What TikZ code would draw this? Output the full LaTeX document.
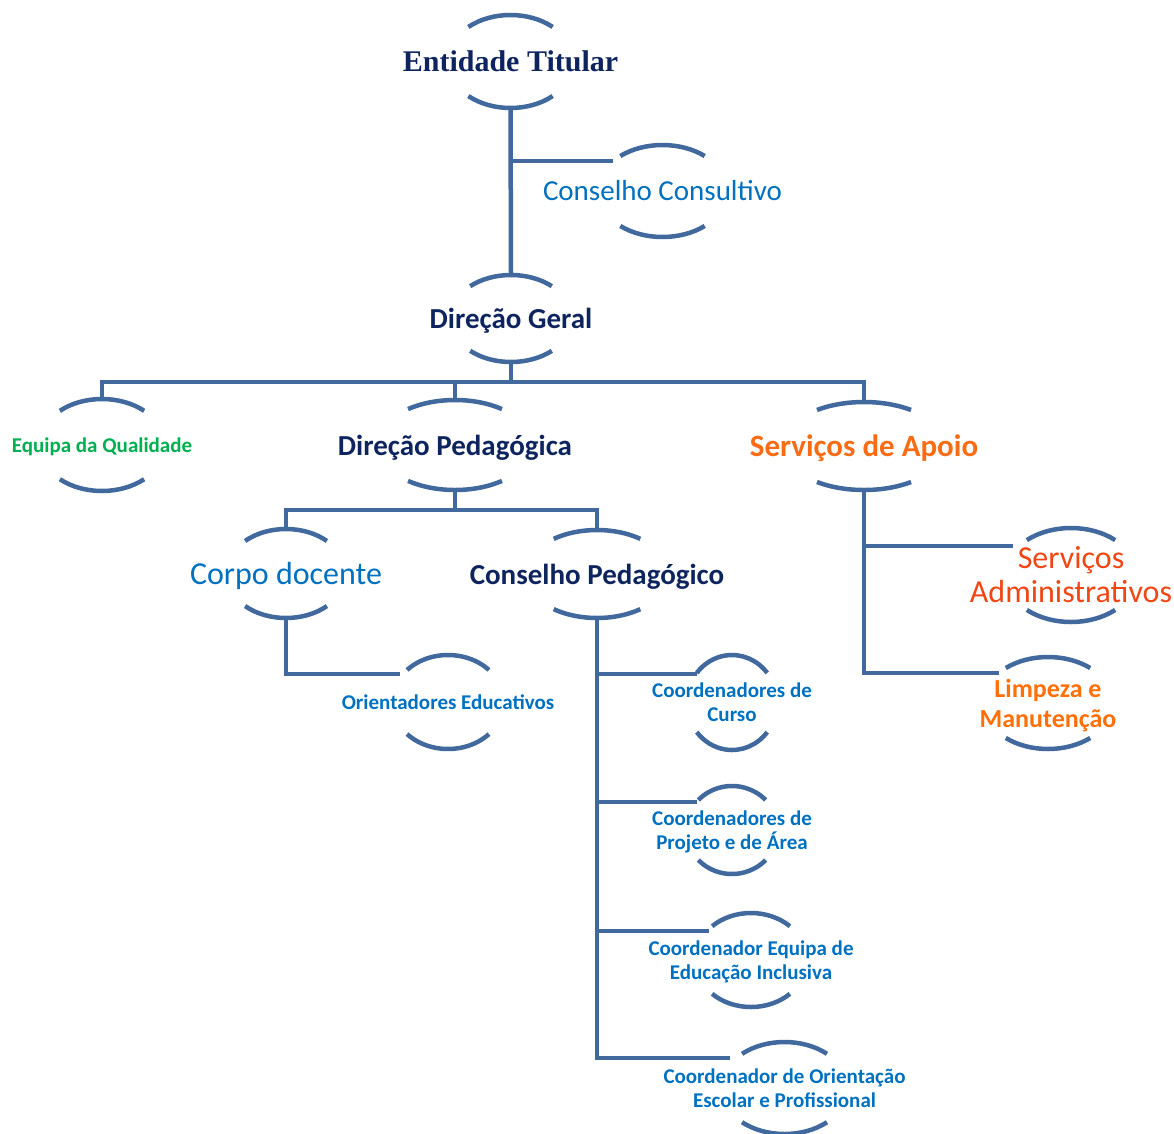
\documentclass[tikz,border=0pt]{standalone}
\usepackage{fontspec}
\setmainfont{Carlito}
\newfontfamily\titlefont{Liberation Serif}
\usepackage{tikz}
\usetikzlibrary{positioning}

\definecolor{linkblue}{RGB}{65,105,158}
\definecolor{navy}{RGB}{14,36,94}
\definecolor{midblue}{RGB}{0,112,192}
\definecolor{leafgreen}{RGB}{0,176,80}
\definecolor{apoio}{RGB}{247,108,20}
\definecolor{admin}{RGB}{240,70,20}
\definecolor{limpeza}{RGB}{255,112,10}

\begin{document}
\begin{tikzpicture}[x=1pt,y=1pt]

\tikzset{unit/.style={inner sep=0pt, minimum height=2*#1, align=center},
         unit/.default=46,
         low/.style={text depth=0pt},
         link/.style={draw=linkblue, line width=4.5pt},
         arcline/.style={draw=linkblue, line width=4.5pt},
         head/.style={font=\fontsize{29}{34}\selectfont\bfseries, text=navy},
         small/.style={font=\fontsize{21}{24}\selectfont\bfseries, text=midblue}}

\useasboundingbox (0,0) rectangle (1174,-1133);

\node[unit=46.5, font=\titlefont\fontsize{30}{36}\selectfont\bfseries, text=navy] (et) at (510.5,-61.5) {Entidade Titular};
\node[unit, font=\fontsize{29}{34}\selectfont, text=midblue] (cc) at (662.5,-191) {Conselho Consultivo};
\node[unit=43.5, head, low] (dg) at (511,-318.5) {Direção Geral};
\node[unit, small, low, text=leafgreen] (eq) at (102,-445) {Equipa da Qualidade};
\node[unit=45, head, low] (dp) at (455,-445) {Direção Pedagógica};
\node[unit=44, head, low, font=\fontsize{31}{36}\selectfont\bfseries, text=apoio] (sa) at (864,-446) {Serviços de Apoio};
\node[unit=44.5, low, font=\fontsize{32}{36}\selectfont, text=midblue] (cd) at (286,-573.5) {Corpo docente};
\node[unit=44, head, low] (cp) at (597,-574) {Conselho Pedagógico};
\node[unit=47, small] (oe) at (448,-702) {Orientadores Educativos};
\node[unit=47, font=\fontsize{32}{34}\selectfont, text=admin] (sad) at (1071,-575) {Serviços\\Administrativos};
\node[unit, low, font=\fontsize{26}{30}\selectfont\bfseries, text=limpeza] (lm) at (1048,-703) {Limpeza e\\Manutenção};
\node[unit=47.5, small] (ccu) at (732,-702.5) {Coordenadores de\\Curso};
\node[unit=44, small, low] (cpa) at (732,-830) {Coordenadores de\\Projeto e de Área};
\node[unit=47, small, low] (cei) at (751,-960) {Coordenador Equipa de\\Educação Inclusiva};
\node[unit, small] (ceo) at (784.5,-1088) {Coordenador de Orientação\\Escolar e Profissional};

% top and bottom arcs round each unit
\foreach \n/\rx/\ry/\t [evaluate=\t as \u using 180-\t] in
  {et/63/46.5/48, cc/65/46/49.5, dg/61/43.5/48, eq/63/46/48, dp/78/45/53,
   sa/82/44/55, cd/60/44.5/47, cp/72/44/53, oe/56/47/43, sad/66/47/48,
   lm/65/46/49.5, ccu/45/47.5/38.5, cpa/46/44/43, cei/56/47/46, ceo/63.5/46/48}
{
  \draw[arcline] (\n.center) ++(\t:\rx pt and \ry pt)
    arc[start angle=\t, end angle=\u, x radius=\rx pt, y radius=\ry pt];
  \draw[arcline] (\n.center) ++(-\t:\rx pt and \ry pt)
    arc[start angle=-\t, end angle=-\u, x radius=\rx pt, y radius=\ry pt];
}

\coordinate (cc-in) at ([shift={(-50,30)}]cc.center);
\coordinate (oe-in) at ([shift={(-48,28)}]oe.center);
\coordinate (ccu-in) at ([shift={(-35,28.5)}]ccu.center);
\coordinate (cpa-in) at ([shift={(-35,28)}]cpa.center);
\coordinate (cei-in) at ([shift={(-42,29)}]cei.center);
\coordinate (ceo-in) at ([shift={(-54.5,30)}]ceo.center);
\coordinate (sad-in) at ([shift={(-58,29)}]sad.center);
\coordinate (lm-in) at ([shift={(-49,30)}]lm.center);

\draw[link] (et.south) -- (dg.north);
\draw[link] (et.south |- cc-in) -- (cc-in);

\draw[link] (dg.south) -- ++(0,-20) coordinate (bar1);
\draw[link] (eq.north) |- (bar1) -| (sa.north);
\draw[link] (dp.north) -- (dp.north |- bar1);

\draw[link] (dp.south) -- ++(0,-20) coordinate (bar2);
\draw[link] (cd.north) |- (bar2) -| (cp.north);
\draw[link] (cd.south) |- (oe-in);

\draw[link] (cp.south) |- (ceo-in);
\foreach \c in {ccu,cpa,cei}
  \draw[link] (cp.south |- \c-in) -- (\c-in);

\draw[link] (sa.south) |- (lm-in);
\draw[link] (sa.south |- sad-in) -- (sad-in);

\end{tikzpicture}
\end{document}
